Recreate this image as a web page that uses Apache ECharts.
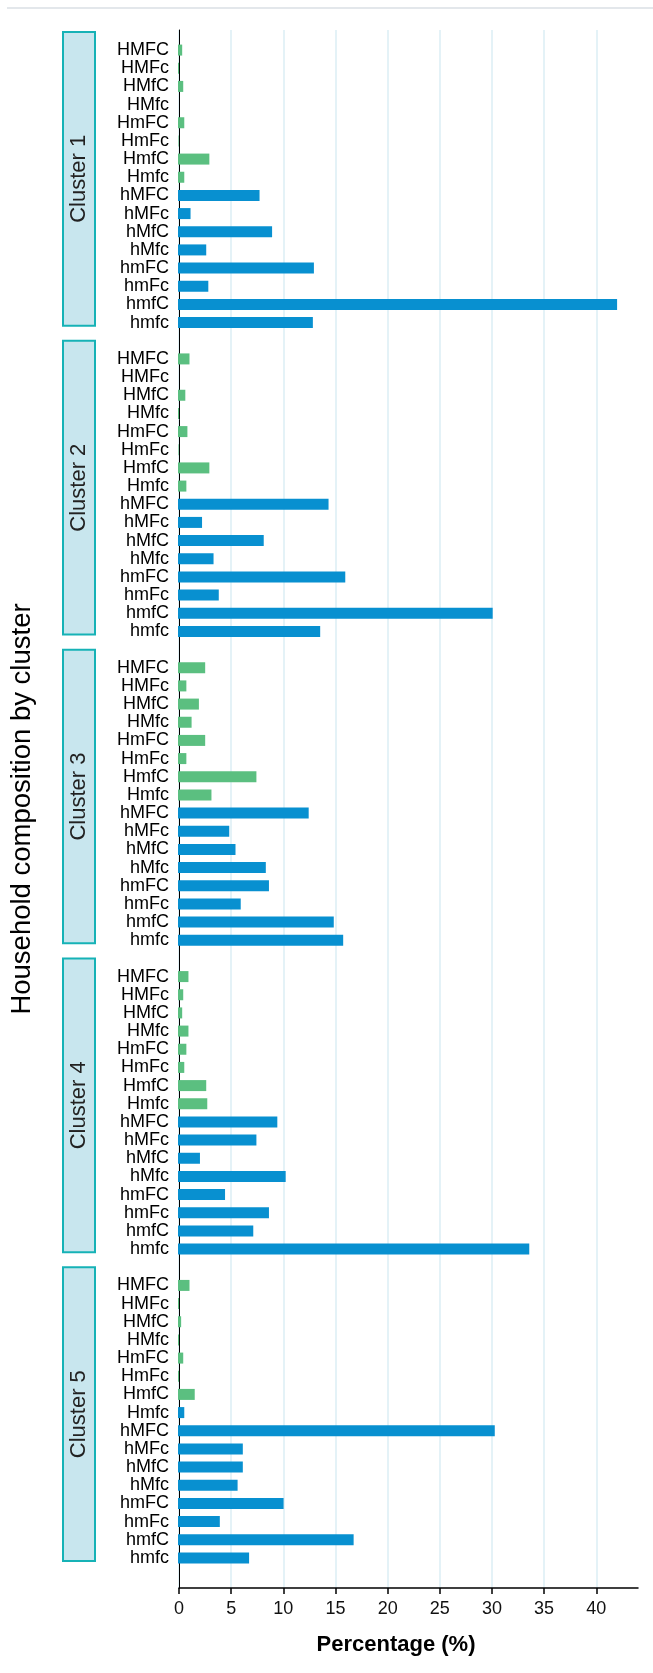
<!DOCTYPE html>
<html>
<head>
<meta charset="utf-8">
<script src="https://cdn.jsdelivr.net/npm/echarts@6/dist/echarts.min.js"></script>
<style>
html,body{margin:0;padding:0;background:#fff;}
#chart{width:653px;height:1673px;}
</style>
</head>
<body>
<div id="chart"></div>
<script>
// ---- data ----
const categories = ['HMFC','HMFc','HMfC','HMfc','HmFC','HmFc','HmfC','Hmfc','hMFC','hMFc','hMfC','hMfc','hmFC','hmFc','hmfC','hmfc'];
const clusterNames = ['Cluster 1','Cluster 2','Cluster 3','Cluster 4','Cluster 5'];
const cluster1 = [0.4, 0.1, 0.5, 0.0, 0.6, 0.05, 3.0, 0.6, 7.8, 1.2, 9.0, 2.7, 13.0, 2.9, 42.0, 12.9];
const cluster2 = [1.1, 0.0, 0.7, 0.1, 0.9, 0.05, 3.0, 0.8, 14.4, 2.3, 8.2, 3.4, 16.0, 3.9, 30.1, 13.6];
const cluster3 = [2.6, 0.8, 2.0, 1.3, 2.6, 0.8, 7.5, 3.2, 12.5, 4.9, 5.5, 8.4, 8.7, 6.0, 14.9, 15.8];
const cluster4 = [1.0, 0.5, 0.4, 1.0, 0.8, 0.6, 2.7, 2.8, 9.5, 7.5, 2.1, 10.3, 4.5, 8.7, 7.2, 33.6];
const cluster5 = [1.1, 0.1, 0.3, 0.1, 0.5, 0.1, 1.6, 0.6, 30.3, 6.2, 6.2, 5.7, 10.1, 4.0, 16.8, 6.8];
const clusterValues = [cluster1, cluster2, cluster3, cluster4, cluster5];
const xTicks = [0, 5, 10, 15, 20, 25, 30, 35, 40];
const xMax = 44;
// H-group bars that are drawn in the h-group colour in the source
const blueOverrides = [['Cluster 5', 'Hmfc']];

// ---- build category axis (one blank row between clusters) ----
const yCats = [];
const greenData = [];
const blueData = [];
const stripData = [];
clusterNames.forEach(function (cn, ci) {
  const start = yCats.length;
  categories.forEach(function (cat, k) {
    const v = clusterValues[ci][k];
    const forcedBlue = blueOverrides.some(function (o) { return o[0] === cn && o[1] === cat; });
    const isBlue = cat.charAt(0) === 'h' || forcedBlue;
    yCats.push(cat);
    greenData.push(isBlue ? '-' : v);
    blueData.push(isBlue ? v : '-');
  });
  stripData.push([0, start, start + categories.length - 1, ci]);
  if (ci < clusterNames.length - 1) {
    yCats.push('');
    greenData.push('-');
    blueData.push('-');
  }
});

const FONT = '"Liberation Sans", Arial, Helvetica, sans-serif';
const chart = echarts.init(document.getElementById('chart'), null, {renderer: 'canvas'});

chart.setOption({
  animation: false,
  backgroundColor: '#ffffff',
  textStyle: {fontFamily: FONT},
  graphic: [{
    type: 'line',
    shape: {x1: 7, y1: 8, x2: 653, y2: 8},
    style: {stroke: '#e3e7eb', lineWidth: 2},
    silent: true
  }],
  grid: [
    {left: 178, right: 15, top: 41, bottom: 106, containLabel: false},
    {left: 178, right: 15, top: 30, bottom: 85, containLabel: false}
  ],
  xAxis: [
    {gridIndex: 0, type: 'value', min: 0, max: xMax, show: false},
    {
      gridIndex: 1, type: 'value', min: 0, max: xMax, interval: 5,
      axisLine: {show: true, onZero: false, lineStyle: {color: '#000', width: 1.5}},
      axisTick: {show: true, length: 6, customValues: xTicks, lineStyle: {color: '#000', width: 1.5}},
      axisLabel: {show: true, customValues: xTicks, fontSize: 18, color: '#111', margin: 12, fontFamily: FONT},
      splitLine: {show: true, lineStyle: {color: '#dbeef5', width: 1.5}},
      name: 'Percentage (%)',
      nameLocation: 'middle',
      nameGap: 46,
      nameTextStyle: {fontSize: 22, fontWeight: 'bold', color: '#000', fontFamily: FONT, padding: [0, 25, 0, 0]}
    }
  ],
  yAxis: [
    {
      gridIndex: 0, type: 'category', inverse: true, data: yCats,
      axisLine: {show: false}, axisTick: {show: false}, splitLine: {show: false},
      axisLabel: {interval: 0, fontSize: 18, color: '#000', margin: 9, fontFamily: FONT}
    },
    {
      gridIndex: 1, type: 'value', min: 0, max: 1,
      axisLine: {show: true, onZero: false, lineStyle: {color: '#000', width: 1}},
      axisTick: {show: false}, axisLabel: {show: false}, splitLine: {show: false},
      name: 'Household composition by cluster',
      nameLocation: 'middle',
      nameRotate: 90,
      nameGap: 143,
      nameTextStyle: {fontSize: 27.5, color: '#000', fontFamily: FONT}
    }
  ],
  series: [
    {
      type: 'bar', name: 'H', xAxisIndex: 0, yAxisIndex: 0,
      data: greenData, barWidth: 11, barGap: '-100%',
      itemStyle: {color: '#5bbf80'}, z: 3
    },
    {
      type: 'bar', name: 'h', xAxisIndex: 0, yAxisIndex: 0,
      data: blueData, barWidth: 11, barGap: '-100%',
      itemStyle: {color: '#0890d0'}, z: 3
    },
    {
      type: 'custom', xAxisIndex: 0, yAxisIndex: 0, clip: false, z: 4,
      data: stripData,
      encode: {x: 0, y: 1},
      renderItem: function (params, api) {
        const p0 = api.coord([0, api.value(1)]);
        const p1 = api.coord([0, api.value(2)]);
        const band = api.size([0, 1])[1];
        const top = p0[1] - band / 2 - 9;
        const bottom = p1[1] + band / 2 - 6;
        const left = p0[0] - 115;
        const w = 32;
        const name = clusterNames[api.value(3)];
        return {
          type: 'group',
          children: [
            {
              type: 'rect',
              shape: {x: left, y: top, width: w, height: bottom - top},
              style: {fill: '#c8e6ee', stroke: '#16b2b6', lineWidth: 2}
            },
            {
              type: 'text',
              x: left + w / 2,
              y: (top + bottom) / 2,
              rotation: Math.PI / 2,
              style: {
                text: name, fill: '#222', fontSize: 22, fontFamily: FONT,
                align: 'center', verticalAlign: 'middle'
              }
            }
          ]
        };
      }
    }
  ]
});
</script>
</body>
</html>
